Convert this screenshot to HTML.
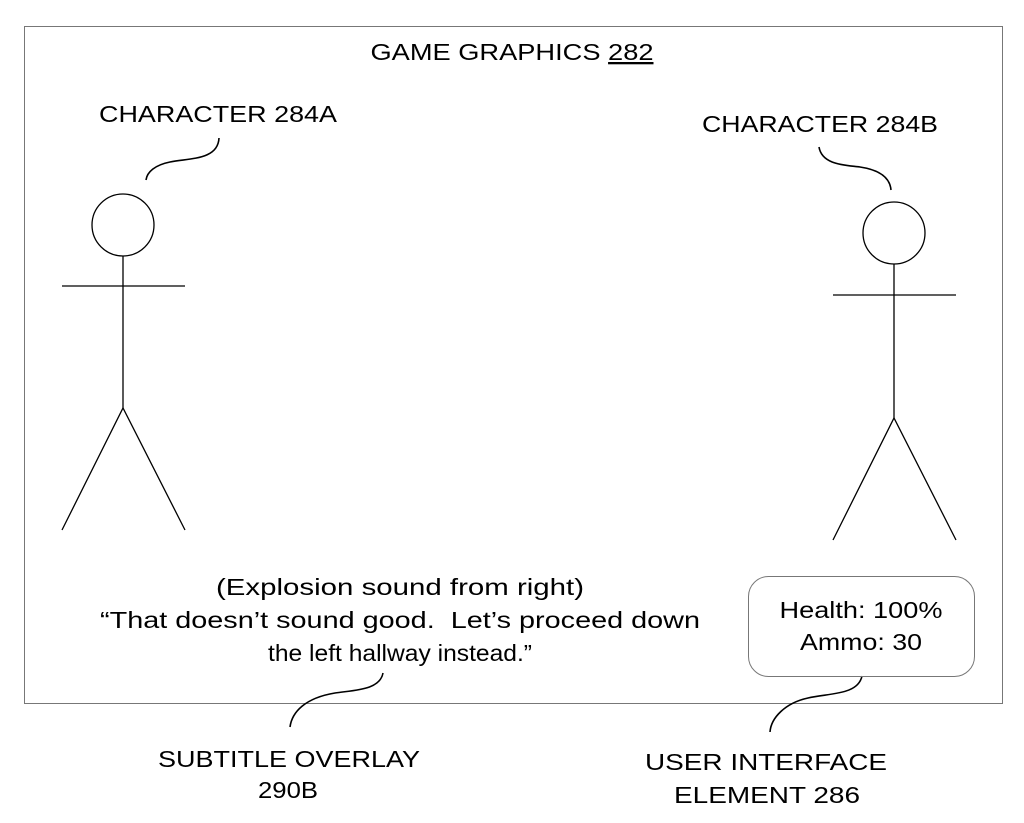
<!DOCTYPE html>
<html><head><style>
html,body{margin:0;padding:0;background:#fff;}
svg{display:block;}
text{font-family:"Liberation Sans",Arial,sans-serif;font-size:23px;fill:#000;}
</style></head><body>
<svg width="1024" height="823" viewBox="0 0 1024 823" xmlns="http://www.w3.org/2000/svg">
<rect x="24.5" y="26.5" width="978" height="677" fill="none" stroke="#777" stroke-width="1"/>
<text x="512" y="60" text-anchor="middle" textLength="283" lengthAdjust="spacingAndGlyphs">GAME GRAPHICS <tspan text-decoration="underline">282</tspan></text>
<text x="218" y="122" text-anchor="middle" textLength="238" lengthAdjust="spacingAndGlyphs">CHARACTER 284A</text>
<text x="820" y="132" text-anchor="middle" textLength="236" lengthAdjust="spacingAndGlyphs">CHARACTER 284B</text>
<g fill="none" stroke="#000" stroke-width="1.6">
<path d="M219,138 C218,160 190,158 170,162 C155,165 147,172 146,180"/>
<path d="M819,147 C822,165 845,165 860,167 C880,170 890,178 891,190"/>
<path d="M383,673 C380,690 355,690 335,693 C305,698 292,712 290,727"/>
<path d="M862,676 C858,695 830,693 808,698 C785,703 771,718 770,732"/>
</g>
<g fill="none" stroke="#000" stroke-width="1.3">
<circle cx="123" cy="225" r="31"/>
<line x1="123" y1="256" x2="123" y2="408"/>
<line x1="62" y1="286" x2="185" y2="286"/>
<polyline points="62,530 123,408 185,530"/>
<circle cx="894" cy="233" r="31"/>
<line x1="894" y1="264" x2="894" y2="418"/>
<line x1="833" y1="295" x2="956" y2="295"/>
<polyline points="833,540 894,418 956,540"/>
</g>
<rect x="748.5" y="576.5" width="226" height="100" rx="20" fill="none" stroke="#777" stroke-width="1"/>
<text x="861" y="618" text-anchor="middle" textLength="163" lengthAdjust="spacingAndGlyphs">Health: 100%</text>
<text x="861" y="650" text-anchor="middle" textLength="122" lengthAdjust="spacingAndGlyphs">Ammo: 30</text>
<text x="400" y="595" text-anchor="middle" textLength="368" lengthAdjust="spacingAndGlyphs">(Explosion sound from right)</text>
<text x="400" y="628" text-anchor="middle" textLength="600" lengthAdjust="spacingAndGlyphs">“That doesn’t sound good.&#160; Let’s proceed down</text>
<text x="400" y="661" text-anchor="middle" textLength="264" lengthAdjust="spacingAndGlyphs">the left hallway instead.”</text>
<text x="289" y="767" text-anchor="middle" textLength="262" lengthAdjust="spacingAndGlyphs">SUBTITLE OVERLAY</text>
<text x="288" y="798" text-anchor="middle" textLength="60" lengthAdjust="spacingAndGlyphs">290B</text>
<text x="766" y="770" text-anchor="middle" textLength="242" lengthAdjust="spacingAndGlyphs">USER INTERFACE</text>
<text x="767" y="803" text-anchor="middle" textLength="186" lengthAdjust="spacingAndGlyphs">ELEMENT 286</text>
</svg>
</body></html>
